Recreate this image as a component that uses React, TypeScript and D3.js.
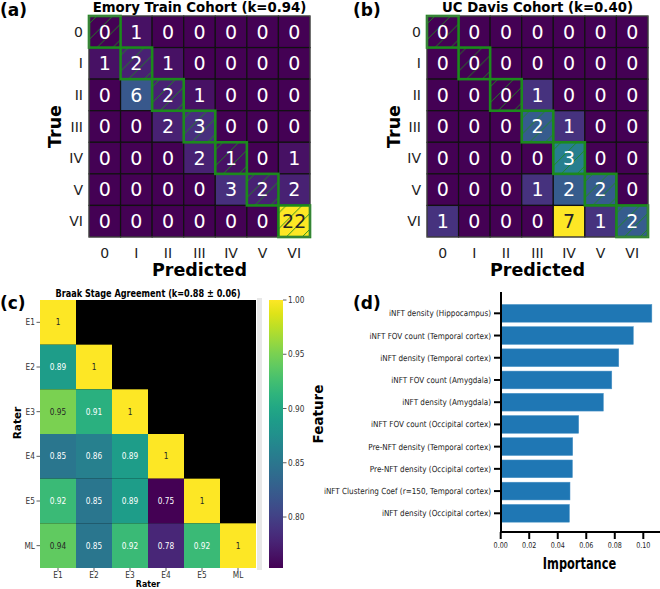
import React from "react";
import * as d3 from "d3";

const STAGES = ["0", "I", "II", "III", "IV", "V", "VI"];
const EMORY = [
  [0, 1, 0, 0, 0, 0, 0],
  [1, 2, 1, 0, 0, 0, 0],
  [0, 6, 2, 1, 0, 0, 0],
  [0, 0, 2, 3, 0, 0, 0],
  [0, 0, 0, 2, 1, 0, 1],
  [0, 0, 0, 0, 3, 2, 2],
  [0, 0, 0, 0, 0, 0, 22],
];
const UCDAVIS = [
  [0, 0, 0, 0, 0, 0, 0],
  [0, 0, 0, 0, 0, 0, 0],
  [0, 0, 0, 1, 0, 0, 0],
  [0, 0, 0, 2, 1, 0, 0],
  [0, 0, 0, 0, 3, 0, 0],
  [0, 0, 0, 1, 2, 2, 0],
  [1, 0, 0, 0, 7, 1, 2],
];
const RATERS = ["E1", "E2", "E3", "E4", "E5", "ML"];
const AGREEMENT = [
  [1],
  [0.89, 1],
  [0.95, 0.91, 1],
  [0.85, 0.86, 0.89, 1],
  [0.92, 0.85, 0.89, 0.75, 1],
  [0.94, 0.85, 0.92, 0.78, 0.92, 1],
];
const CBAR_MIN = 0.753;
const CBAR_TICKS = [0.8, 0.85, 0.9, 0.95, 1.0];
const FEATURES = [
  "iNFT density (Hippocampus)",
  "iNFT FOV count (Temporal cortex)",
  "iNFT density (Temporal cortex)",
  "iNFT FOV count (Amygdala)",
  "iNFT density (Amygdala)",
  "iNFT FOV count (Occipital cortex)",
  "Pre-NFT density (Temporal cortex)",
  "Pre-NFT density (Occipital cortex)",
  "iNFT Clustering Coef (r=150, Temporal cortex)",
  "iNFT density (Occipital cortex)",
];
const IMPORTANCE = [0.106, 0.093, 0.0828, 0.0779, 0.072, 0.0547, 0.0505, 0.0503, 0.0486, 0.0482];
const IMP_TICKS = [0, 0.02, 0.04, 0.06, 0.08, 0.1];

const FONT = "DejaVu Sans";

function Txt({ x, y, children, size, weight = "normal", anchor = "middle", sx = 1, fill = "#000", rotate = 0, dy = "0" }: any) {
  return (
    <text
      transform={`translate(${x},${y}) rotate(${rotate}) scale(${sx},1)`}
      fontSize={size}
      fontWeight={weight}
      textAnchor={anchor}
      fill={fill}
      dy={dy}
      fontFamily={FONT}
    >
      {children}
    </text>
  );
}

function luminance(c: string) {
  const rgb = d3.rgb(c);
  const f = (v: number) => {
    v /= 255;
    return v <= 0.03928 ? v / 12.92 : Math.pow((v + 0.055) / 1.055, 2.4);
  };
  return 0.2126 * f(rgb.r) + 0.7152 * f(rgb.g) + 0.0722 * f(rgb.b);
}

function Confusion({ data, left, top, size, title, id, trueX }: any) {
  const x = d3.scaleBand().domain(STAGES).range([left, left + size]);
  const y = d3.scaleBand().domain(STAGES).range([top, top + size]);
  const max = d3.max(data.flat() as number[]) as number;
  const color = d3.scaleSequential(d3.interpolateViridis).domain([0, max]);
  const bw = x.bandwidth();
  const green = "#1c8a1c";
  return (
    <g>
      <defs>
        <pattern id={id} patternUnits="userSpaceOnUse" x={left + bw / 4} y={top} width={bw / 2} height={bw / 2}>
          <path
            d={`M0,${bw / 2} L${bw / 2},0 M${-bw / 4},${bw / 4} L${bw / 4},${-bw / 4} M${bw / 4},${bw * 0.75} L${bw * 0.75},${bw / 4}`}
            stroke={green}
            strokeWidth={0.9}
          />
        </pattern>
      </defs>
      {data.map((row: number[], i: number) =>
        row.map((v: number, j: number) => (
          <rect
            key={`${i}-${j}`}
            x={x(STAGES[j])}
            y={y(STAGES[i])}
            width={bw}
            height={bw}
            fill={color(v)}
            stroke="#111"
            strokeWidth={1.2}
          />
        ))
      )}
      {STAGES.map((s) => (
        <rect key={"h" + s} x={x(s)} y={y(s)} width={bw} height={bw} fill={`url(#${id})`} />
      ))}
      {data.map((row: number[], i: number) =>
        row.map((v: number, j: number) => (
          <Txt
            key={`t${i}-${j}`}
            x={(x(STAGES[j]) as number) + bw / 2}
            y={(y(STAGES[i]) as number) + bw / 2}
            dy="0.36em"
            size={19}
            fill={v > max / 2 ? "#262626" : "#fff"}
          >
            {v}
          </Txt>
        ))
      )}
      {STAGES.map((s) => (
        <rect key={"g" + s} x={x(s)} y={y(s)} width={bw} height={bw} fill="none" stroke={green} strokeWidth={2.6} />
      ))}
      <rect x={left} y={top} width={size} height={size} fill="none" stroke="#777" strokeWidth={0.6} />
      {STAGES.map((s) => (
        <Txt key={"r" + s} x={left - 6} y={(y(s) as number) + bw / 2} dy="0.36em" size={14} anchor="end" fill="#222">
          {s}
        </Txt>
      ))}
      {STAGES.map((s) => (
        <Txt key={"c" + s} x={(x(s) as number) + bw / 2} y={top + size + 16} dy="0.36em" size={14} fill="#222">
          {s}
        </Txt>
      ))}
      <Txt x={left + size / 2} y={11.5} size={13.3} weight="bold">
        {title}
      </Txt>
      <Txt x={left + size / 2} y={276} size={17.5} weight="bold">
        Predicted
      </Txt>
      <Txt x={trueX} y={top + size / 2} size={17.5} weight="bold" rotate={-90}>
        True
      </Txt>
    </g>
  );
}

function Agreement() {
  const left = 40, top = 300, w = 216, h = 268;
  const x = d3.scaleBand().domain(RATERS).range([left, left + w]);
  const y = d3.scaleBand().domain(RATERS).range([top, top + h]);
  const color = d3.scaleSequential(d3.interpolateViridis).domain([CBAR_MIN, 1]);
  const cbX = 269, cbW = 14;
  const cy = d3.scaleLinear().domain([CBAR_MIN, 1]).range([top + h, top]);
  const stops = d3.range(0, 1.0001, 0.05);
  return (
    <g>
      <defs>
        <linearGradient id="cbar" x1="0" y1="1" x2="0" y2="0">
          {stops.map((t) => (
            <stop key={t} offset={t} stopColor={d3.interpolateViridis(t)} />
          ))}
        </linearGradient>
      </defs>
      <rect x={left} y={top} width={w} height={h} fill="#000" />
      <rect x={257} y={298} width={5} height={272} fill="#e8e8e8" />
      {AGREEMENT.map((row, i) =>
        row.map((v, j) => {
          const c = color(v);
          return (
            <g key={`${i}-${j}`}>
              <rect x={x(RATERS[j])} y={y(RATERS[i])} width={x.bandwidth()} height={y.bandwidth()} fill={c} />
              <Txt
                x={(x(RATERS[j]) as number) + x.bandwidth() / 2}
                y={(y(RATERS[i]) as number) + y.bandwidth() / 2}
                dy="0.36em"
                size={8.6}
                sx={0.86}
                fill={luminance(c) > 0.408 ? "#262626" : "#fff"}
              >
                {String(v)}
              </Txt>
            </g>
          );
        })
      )}
      {RATERS.map((r) => (
        <g key={"yt" + r}>
          <line x1={left - 3.5} x2={left} y1={(y(r) as number) + y.bandwidth() / 2} y2={(y(r) as number) + y.bandwidth() / 2} stroke="#333" strokeWidth={0.8} />
          <Txt x={left - 5} y={(y(r) as number) + y.bandwidth() / 2} dy="0.36em" size={8.6} sx={0.86} anchor="end" fill="#333">
            {r}
          </Txt>
          <line x1={(x(r) as number) + x.bandwidth() / 2} x2={(x(r) as number) + x.bandwidth() / 2} y1={top + h} y2={top + h + 3} stroke="#333" strokeWidth={0.8} />
          <Txt x={(x(r) as number) + x.bandwidth() / 2} y={top + h + 10} size={8.6} sx={0.86} fill="#333">
            {r}
          </Txt>
        </g>
      ))}
      <Txt x={left + w / 2} y={587} size={9.6} sx={0.82} weight="bold">
        Rater
      </Txt>
      <Txt x={21} y={top + h / 2 - 11} size={10.5} weight="bold" rotate={-90}>
        Rater
      </Txt>
      <Txt x={148} y={297} size={10.2} sx={0.8} weight="bold">
        Braak Stage Agreement (k=0.88 ± 0.06)
      </Txt>
      <rect x={cbX} y={top} width={cbW} height={h} fill="url(#cbar)" />
      {CBAR_TICKS.map((t) => (
        <g key={"cb" + t}>
          <line x1={cbX + cbW} x2={cbX + cbW + 3.5} y1={cy(t)} y2={cy(t)} stroke="#333" strokeWidth={0.8} />
          <Txt x={cbX + cbW + 5} y={cy(t)} dy="0.36em" size={8.6} sx={0.86} anchor="start" fill="#333">
            {t.toFixed(2)}
          </Txt>
        </g>
      ))}
    </g>
  );
}

function Importance() {
  const axX = 501, axTop = 292, axBottom = 532;
  const x = d3.scaleLinear().domain([0, 0.1]).range([500.7, 643.3]);
  const y = d3.scaleBand().domain(FEATURES).range([302.2, 524.4]).paddingInner(0.2).paddingOuter(0.1);
  return (
    <g>
      {FEATURES.map((f, i) => (
        <rect key={f} x={x(0)} y={y(f)} width={x(IMPORTANCE[i]) - x(0)} height={y.bandwidth()} fill="#1f77b4" stroke="#4f95c8" strokeWidth={0.5} />
      ))}
      <line x1={axX} x2={axX} y1={axTop} y2={axBottom + 1} stroke="#000" strokeWidth={2} />
      <line x1={axX - 1} x2={660} y1={axBottom} y2={axBottom} stroke="#000" strokeWidth={2} />
      {FEATURES.map((f) => (
        <g key={"t" + f}>
          <line x1={axX - 7} x2={axX} y1={(y(f) as number) + y.bandwidth() / 2} y2={(y(f) as number) + y.bandwidth() / 2} stroke="#000" strokeWidth={2} />
          <Txt x={axX - 10} y={(y(f) as number) + y.bandwidth() / 2} dy="0.36em" size={8.4} sx={0.86} anchor="end" fill="#222">
            {f}
          </Txt>
        </g>
      ))}
      {IMP_TICKS.map((t) => (
        <g key={"x" + t}>
          <line x1={x(t)} x2={x(t)} y1={axBottom} y2={axBottom + 7} stroke="#000" strokeWidth={2} />
          <Txt x={x(t)} y={axBottom + 10} dy="0.75em" size={8} sx={0.8} fill="#222">
            {t.toFixed(2)}
          </Txt>
        </g>
      ))}
      <Txt x={579.5} y={568.5} size={15} sx={0.76} weight="bold">
        Importance
      </Txt>
      <Txt x={323} y={414} size={13.5} weight="bold" rotate={-90}>
        Feature
      </Txt>
    </g>
  );
}

export default function App() {
  return (
    <svg width={660} height={589} style={{ position: "absolute", left: 0, top: 0, background: "#fff" }}>
      <rect width={660} height={589} fill="#fff" />
      <Confusion data={EMORY} left={89} top={16} size={221} title="Emory Train Cohort (k=0.94)" id="hatchA" trueX={61} />
      <Confusion data={UCDAVIS} left={427} top={16} size={221} title="UC Davis Cohort (k=0.40)" id="hatchB" trueX={400} />
      <Agreement />
      <Importance />
      <Txt x={0} y={15.5} size={17} weight="bold" anchor="start">(a)</Txt>
      <Txt x={353} y={15.5} size={17} weight="bold" anchor="start">(b)</Txt>
      <Txt x={0} y={309} size={17} weight="bold" anchor="start">(c)</Txt>
      <Txt x={353} y={309} size={17} weight="bold" anchor="start">(d)</Txt>
    </svg>
  );
}
